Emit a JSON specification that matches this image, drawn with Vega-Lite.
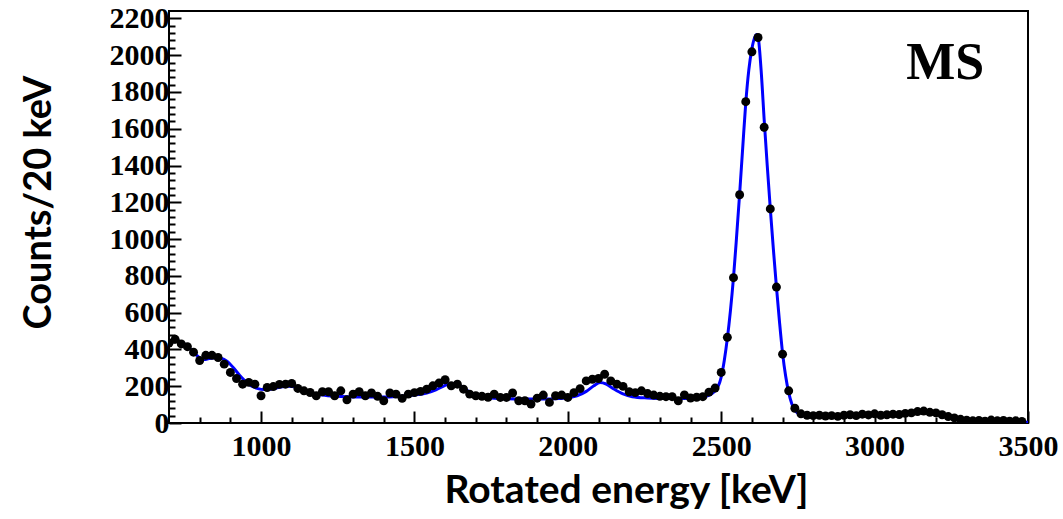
{
  "$schema": "https://vega.github.io/schema/vega-lite/v6.json",
  "width": 859,
  "height": 412,
  "autosize": {"type": "none"},
  "padding": {"left": 169, "top": 11, "right": 35, "bottom": 96},
  "background": "white",
  "config": {"view": {"stroke": "black", "strokeWidth": 2}},
  "datasets": {
    "pts": [
      {"e":700,"c":435},{"e":720,"c":455},{"e":740,"c":430},{"e":760,"c":415},{"e":780,"c":385},{"e":800,"c":340},{"e":820,"c":368},{"e":840,"c":368},{"e":860,"c":356},{"e":880,"c":320},
      {"e":900,"c":275},{"e":920,"c":242},{"e":940,"c":211},{"e":960,"c":221},{"e":980,"c":211},{"e":1000,"c":148},{"e":1020,"c":193},{"e":1040,"c":198},{"e":1060,"c":210},{"e":1080,"c":211},
      {"e":1100,"c":215},{"e":1120,"c":188},{"e":1140,"c":175},{"e":1160,"c":166},{"e":1180,"c":148},{"e":1200,"c":170},{"e":1220,"c":170},{"e":1240,"c":148},{"e":1260,"c":175},{"e":1280,"c":126},
      {"e":1300,"c":157},{"e":1320,"c":170},{"e":1340,"c":148},{"e":1360,"c":163},{"e":1380,"c":145},{"e":1400,"c":121},{"e":1420,"c":163},{"e":1440,"c":157},{"e":1460,"c":134},{"e":1480,"c":157},
      {"e":1500,"c":165},{"e":1520,"c":172},{"e":1540,"c":184},{"e":1560,"c":202},{"e":1580,"c":217},{"e":1600,"c":235},{"e":1620,"c":202},{"e":1640,"c":211},{"e":1660,"c":184},{"e":1680,"c":157},
      {"e":1700,"c":148},{"e":1720,"c":145},{"e":1740,"c":140},{"e":1760,"c":157},{"e":1780,"c":139},{"e":1800,"c":139},{"e":1820,"c":163},{"e":1840,"c":121},{"e":1860,"c":121},{"e":1880,"c":103},
      {"e":1900,"c":135},{"e":1920,"c":152},{"e":1940,"c":112},{"e":1960,"c":148},{"e":1980,"c":152},{"e":2000,"c":139},{"e":2020,"c":165},{"e":2040,"c":187},{"e":2060,"c":229},{"e":2080,"c":238},
      {"e":2100,"c":242},{"e":2120,"c":265},{"e":2140,"c":229},{"e":2160,"c":211},{"e":2180,"c":199},{"e":2200,"c":170},{"e":2220,"c":165},{"e":2240,"c":175},{"e":2260,"c":160},{"e":2280,"c":152},
      {"e":2300,"c":145},{"e":2320,"c":143},{"e":2340,"c":143},{"e":2360,"c":121},{"e":2380,"c":153},{"e":2400,"c":136},{"e":2420,"c":140},{"e":2440,"c":143},{"e":2460,"c":168},{"e":2480,"c":190},
      {"e":2500,"c":275},{"e":2520,"c":466},{"e":2540,"c":790},{"e":2560,"c":1241},{"e":2580,"c":1747},{"e":2600,"c":2018},{"e":2620,"c":2096},{"e":2640,"c":1608},{"e":2660,"c":1164},{"e":2680,"c":739},
      {"e":2700,"c":374},{"e":2720,"c":175},{"e":2740,"c":80},{"e":2760,"c":50},{"e":2780,"c":42},{"e":2800,"c":40},{"e":2820,"c":42},{"e":2840,"c":38},{"e":2860,"c":40},{"e":2880,"c":36},
      {"e":2900,"c":42},{"e":2920,"c":45},{"e":2940,"c":40},{"e":2960,"c":48},{"e":2980,"c":44},{"e":3000,"c":50},{"e":3020,"c":42},{"e":3040,"c":45},{"e":3060,"c":48},{"e":3080,"c":46},
      {"e":3100,"c":52},{"e":3120,"c":55},{"e":3140,"c":62},{"e":3160,"c":65},{"e":3180,"c":58},{"e":3200,"c":55},{"e":3220,"c":45},{"e":3240,"c":35},{"e":3260,"c":28},{"e":3280,"c":20},
      {"e":3300,"c":15},{"e":3320,"c":12},{"e":3340,"c":14},{"e":3360,"c":10},{"e":3380,"c":16},{"e":3400,"c":12},{"e":3420,"c":14},{"e":3440,"c":10},{"e":3460,"c":12},{"e":3480,"c":8}
    ],
    "fit": [
      {"e":700,"c":425},{"e":710,"c":440},{"e":725,"c":447},{"e":740,"c":440},{"e":760,"c":418},{"e":780,"c":385},{"e":800,"c":355},{"e":815,"c":345},{"e":830,"c":350},{"e":850,"c":355},
      {"e":870,"c":352},{"e":890,"c":335},{"e":910,"c":300},{"e":930,"c":260},{"e":950,"c":225},{"e":970,"c":200},{"e":990,"c":187},{"e":1010,"c":182},{"e":1030,"c":183},{"e":1050,"c":190},
      {"e":1070,"c":197},{"e":1090,"c":200},{"e":1110,"c":197},{"e":1130,"c":185},{"e":1150,"c":172},{"e":1170,"c":162},{"e":1200,"c":152},{"e":1250,"c":145},{"e":1300,"c":142},{"e":1350,"c":141},
      {"e":1400,"c":141},{"e":1450,"c":145},{"e":1500,"c":152},{"e":1540,"c":163},{"e":1570,"c":180},{"e":1600,"c":205},{"e":1620,"c":215},{"e":1640,"c":210},{"e":1660,"c":190},{"e":1680,"c":168},
      {"e":1700,"c":152},{"e":1730,"c":140},{"e":1780,"c":133},{"e":1850,"c":130},{"e":1920,"c":130},{"e":1970,"c":133},{"e":2000,"c":137},{"e":2030,"c":148},{"e":2060,"c":172},{"e":2085,"c":203},
      {"e":2105,"c":220},{"e":2125,"c":212},{"e":2150,"c":185},{"e":2180,"c":158},{"e":2210,"c":143},{"e":2260,"c":136},{"e":2320,"c":133},{"e":2380,"c":133},{"e":2420,"c":136},{"e":2450,"c":145},
      {"e":2470,"c":160},{"e":2485,"c":185},{"e":2495,"c":220},{"e":2500,"c":250},{"e":2510,"c":340},{"e":2520,"c":460},{"e":2530,"c":610},{"e":2540,"c":790},{"e":2550,"c":1010},{"e":2560,"c":1245},
      {"e":2570,"c":1495},{"e":2580,"c":1740},{"e":2590,"c":1920},{"e":2600,"c":2035},{"e":2610,"c":2100},{"e":2615,"c":2112},{"e":2620,"c":2100},{"e":2630,"c":1920},{"e":2640,"c":1650},{"e":2650,"c":1400},
      {"e":2660,"c":1165},{"e":2670,"c":945},{"e":2680,"c":740},{"e":2690,"c":550},{"e":2700,"c":380},{"e":2710,"c":255},{"e":2720,"c":165},{"e":2730,"c":105},{"e":2740,"c":70},{"e":2750,"c":52},
      {"e":2760,"c":43},{"e":2780,"c":38},{"e":2850,"c":38},{"e":2950,"c":40},{"e":3050,"c":45},{"e":3100,"c":52},{"e":3150,"c":62},{"e":3180,"c":60},{"e":3210,"c":50},{"e":3240,"c":35},
      {"e":3270,"c":22},{"e":3300,"c":12},{"e":3340,"c":7},{"e":3400,"c":5},{"e":3500,"c":4}
    ],
    "lbl": [{"e":3230,"c":1960,"t":"MS"}]
  },
  "resolve": {"axis": {"x": "independent", "y": "independent"}},
  "layer": [
    {
      "data": {"name": "fit"},
      "mark": {"type": "line", "color": "#0000ff", "strokeWidth": 3, "interpolate": "monotone", "clip": true},
      "encoding": {
        "x": {"field": "e", "type": "quantitative", "scale": {"domain": [700, 3500], "nice": false, "zero": false},
          "axis": {"orient": "bottom", "title": "Rotated energy [keV]", "values": [1000,1500,2000,2500,3000,3500], "format": "d",
            "grid": false, "domain": false, "tickSize": -12, "tickColor": "black", "tickWidth": 2,
            "labelFont": "Liberation Serif", "labelFontWeight": "bold", "labelFontSize": 30, "labelColor": "black", "labelPadding": 20, "labelBaseline": "top", "labelFlush": false,
            "titleFont": "Lato", "titleFontWeight": "bold", "titleFontSize": 39, "titleColor": "black", "titleX": 457, "titleY": 67, "titleBaseline": "middle", "titleAlign": "center"}},
        "y": {"field": "c", "type": "quantitative", "scale": {"domain": [0, 2240], "nice": false},
          "axis": {"orient": "left", "title": "Counts/20 keV", "values": [0,200,400,600,800,1000,1200,1400,1600,1800,2000,2200], "format": "d",
            "grid": false, "domain": false, "tickSize": -12, "tickColor": "black", "tickWidth": 2,
            "labelFont": "Liberation Serif", "labelFontWeight": "bold", "labelFontSize": 30, "labelColor": "black", "labelPadding": 12, "labelFlush": false,
            "titleFont": "Lato", "titleFontWeight": "bold", "titleFontSize": 38, "titleColor": "black", "titleX": -130, "titleY": 191, "titleAngle": -90, "titleBaseline": "middle", "titleAlign": "center"}}
      }
    },
    {
      "data": {"name": "pts"},
      "mark": {"type": "point", "filled": true, "color": "black", "opacity": 1, "size": 80, "clip": true},
      "encoding": {
        "x": {"field": "e", "type": "quantitative",
          "axis": {"orient": "bottom", "title": null, "labels": false, "domain": false, "grid": false, "values": [800,900,1100,1200,1300,1400,1600,1700,1800,1900,2100,2200,2300,2400,2600,2700,2800,2900,3100,3200,3300,3400],
            "tickSize": -6, "tickColor": "black", "tickWidth": 2}},
        "y": {"field": "c", "type": "quantitative",
          "axis": {"orient": "left", "title": null, "labels": false, "domain": false, "grid": false,
            "values": [40,80,120,160,240,280,320,360,440,480,520,560,640,680,720,760,840,880,920,960,1040,1080,1120,1160,1240,1280,1320,1360,1440,1480,1520,1560,1640,1680,1720,1760,1840,1880,1920,1960,2040,2080,2120,2160],
            "tickSize": -6, "tickColor": "black", "tickWidth": 2}}
      }
    },
    {
      "data": {"name": "lbl"},
      "mark": {"type": "text", "font": "Liberation Serif", "fontWeight": "bold", "fontSize": 52, "color": "black", "align": "center", "baseline": "middle"},
      "encoding": {
        "x": {"field": "e", "type": "quantitative", "axis": null},
        "y": {"field": "c", "type": "quantitative", "axis": null},
        "text": {"field": "t"}
      }
    }
  ]
}
